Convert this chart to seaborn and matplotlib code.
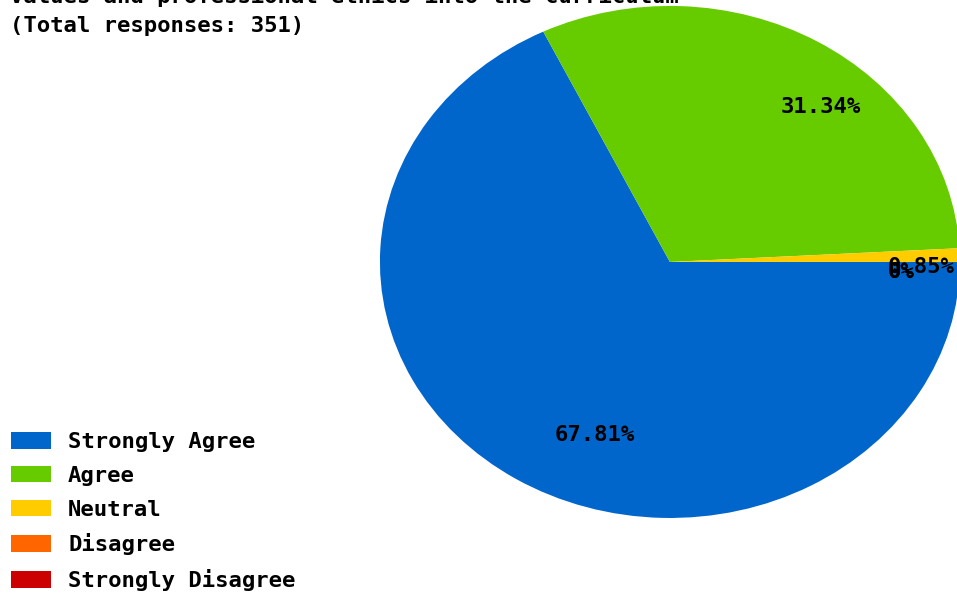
"""
Survey pie chart - professional ethics in the curriculum
"""

import matplotlib
matplotlib.use("Agg")
import matplotlib.pyplot as plt
import seaborn as sns

# ── Data ─────────────────────────────────────────────────────────────────────
LABELS = ["Strongly Agree", "Agree", "Neutral", "Disagree", "Strongly Disagree"]
COUNTS = [238, 110, 3, 0, 0]
TOTAL = 351
COLORS = ["#0066CC", "#66CC00", "#FFCC00", "#FF6600", "#CC0000"]

TITLE_1 = "values and professional ethics into the curriculum"
TITLE_2 = "(Total responses: 351)"

# ── Style ────────────────────────────────────────────────────────────────────
sns.set_style("white")
plt.rcParams["font.family"] = ["DejaVu Sans Mono"]
plt.rcParams["font.weight"] = "bold"
plt.rcParams["text.color"] = "black"
FS = 16


def pct_label(p):
    if round(p, 2) == 0:
        return "0%"
    return f"{p:.2f}%"


fig = plt.figure(figsize=(9.57, 5.94), dpi=100)

# pie is drawn as an ellipse (stretched wider than tall)
ax = fig.add_axes([0.397, 0.128, 0.606, 0.862])
wedges, texts, autotexts = ax.pie(
    COUNTS, colors=COLORS, startangle=0, counterclock=False,
    autopct=pct_label, pctdistance=0.75,
    wedgeprops={"linewidth": 0},
    textprops={"fontsize": FS, "fontweight": "bold", "color": "black"},
)
for at in autotexts:
    at.set_ha("left")
    at.set_va("top")
ax.set_aspect("auto")
ax.set_xlim(-1, 1)
ax.set_ylim(-1, 1)
ax.axis("off")

# title (first line runs off the top edge)
fig.text(0.010, 0.988, TITLE_1, fontsize=FS, fontweight="bold", va="bottom", ha="left")
fig.text(0.010, 0.957, TITLE_2, fontsize=FS, fontweight="bold", va="center", ha="left")

fig.legend(
    wedges, LABELS, loc="lower left", bbox_to_anchor=(-0.0090, -0.029),
    frameon=False, fontsize=FS, handlelength=1.8, handleheight=0.78,
    handletextpad=0.75, labelspacing=0.62,
)

plt.savefig("out.png", dpi=100)
plt.close()
